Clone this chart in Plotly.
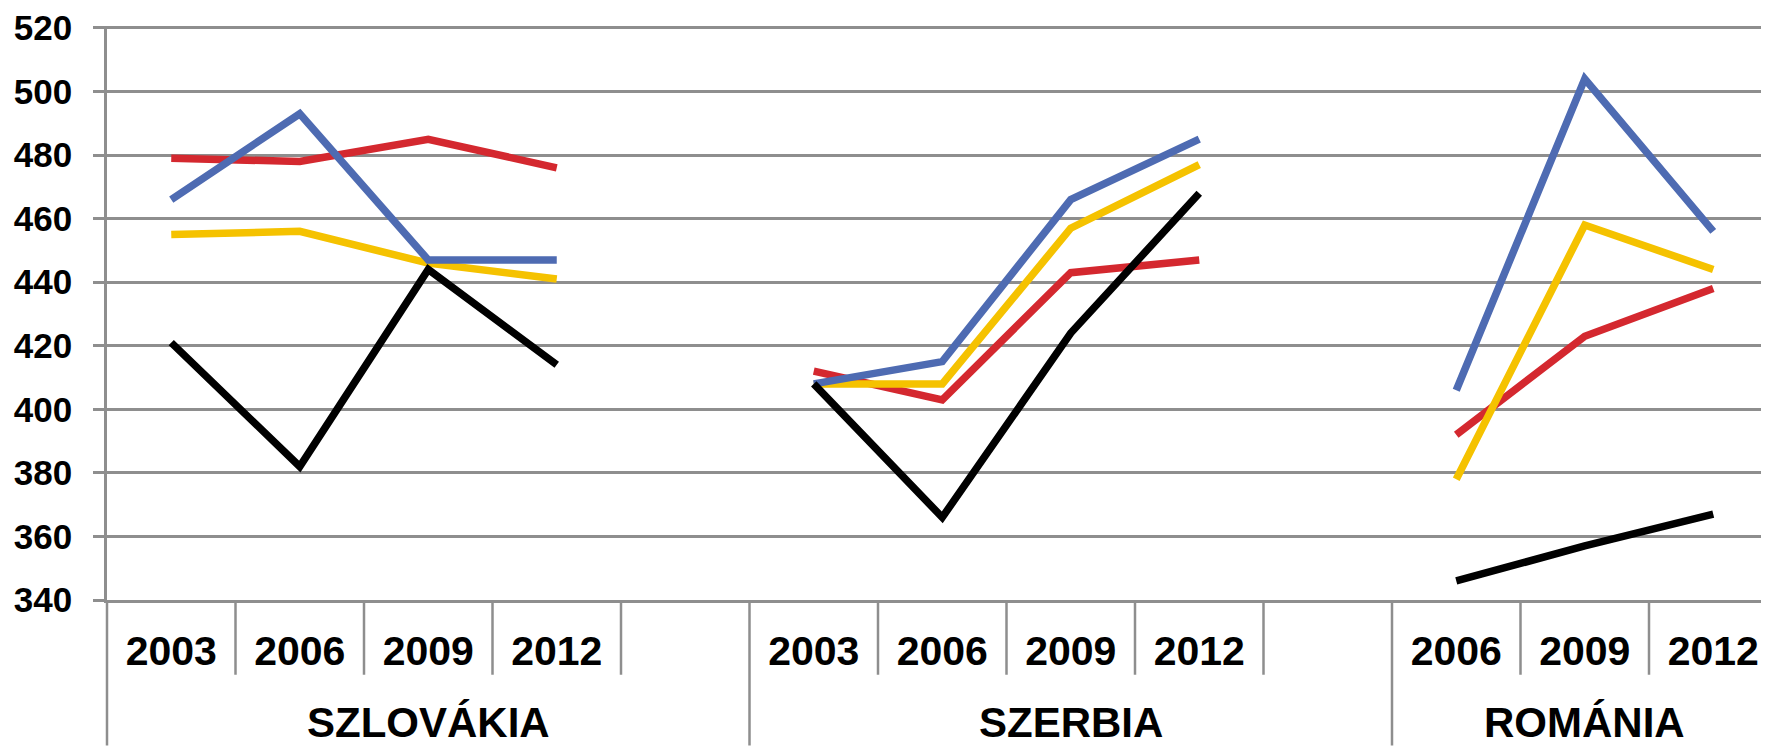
import plotly.graph_objects as go

# ---- data ----
groups = ["SZLOVÁKIA"] * 5 + ["SZERBIA"] * 5 + ["ROMÁNIA"] * 3
years = ["2003", "2006", "2009", "2012", "",
         "2003", "2006", "2009", "2012", "",
         "2006", "2009", "2012"]

red = [479, 478, 485, 476, None, 412, 403, 443, 447, None, 392, 423, 438]
yellow = [455, 456, 446, 441, None, 408, 408, 457, 477, None, 378, 458, 444]
blue = [466, 493, 447, 447, None, 408, 415, 466, 485, None, 406, 504, 456]
black = [421, 382, 444, 414, None, 408, 366, 424, 468, None, 346, 357, 367]

y_ticks = list(range(340, 521, 20))

series = [
    (red, "#D4282F"),
    (yellow, "#F5C200"),
    (blue, "#4E6BB2"),
    (black, "#000000"),
]

GRID = "#8E8E8E"
FONT = "Liberation Sans, Arial, sans-serif"

# geometry (page has an 8px body margin)
W, H = 1761, 738
ML, MT, MB = 99, 16, 146
PLOT_H = H - MT - MB
SLOT = 128.5

n = len(years)
slots = list(range(n))
x_min = -0.5
x_max = x_min + (W - ML) / SLOT
y_lo, y_hi = y_ticks[0], y_ticks[-1]
y_top = y_lo + (y_hi - y_lo) * PLOT_H / (PLOT_H - 2)

fig = go.Figure()
for vals, col in series:
    fig.add_trace(go.Scatter(
        x=slots, y=vals, mode="lines",
        line=dict(color=col, width=7.5),
        connectgaps=False, showlegend=False, hoverinfo="skip",
    ))


def xpaper(v):
    return (v - x_min) / (x_max - x_min)


# separators: short between years, long between groups
for i in range(n + 1):
    b = i - 0.5
    if i == 0 or i == n or groups[i] != groups[i - 1]:
        y0 = -MB / PLOT_H
    else:
        y0 = -75 / PLOT_H
    if b > x_max:
        continue
    fig.add_shape(type="line", xref="paper", yref="paper",
                  x0=xpaper(b), x1=xpaper(b), y0=0, y1=y0,
                  line=dict(color=GRID, width=2.5))

# group labels
seen = []
for g in groups:
    if g not in seen:
        seen.append(g)
for g in seen:
    idx = [i for i, gg in enumerate(groups) if gg == g]
    center = (idx[0] + idx[-1]) / 2
    fig.add_annotation(
        x=center, xref="x", y=-123 / PLOT_H, yref="paper",
        text=g, showarrow=False, yanchor="middle", xanchor="center",
        font=dict(family=FONT, size=42, color="black", weight="bold"),
    )

tick_vals = [i for i in slots if years[i]]
tick_text = [years[i] for i in tick_vals]

fig.update_layout(
    width=W, height=H,
    margin=dict(l=ML, r=0, t=MT, b=MB),
    paper_bgcolor="white", plot_bgcolor="white",
    font=dict(family=FONT, color="black"),
)
fig.update_xaxes(
    range=[x_min, x_max], tickvals=tick_vals, ticktext=tick_text,
    showgrid=False, zeroline=False,
    showline=True, linecolor=GRID, linewidth=2.5,
    ticks="", ticklabelstandoff=13,
    tickfont=dict(family=FONT, size=41, color="black", weight="bold"),
)
fig.update_yaxes(
    range=[y_lo, y_top], tickvals=y_ticks,
    showgrid=True, gridcolor=GRID, gridwidth=2.5,
    zeroline=False, showline=True, linecolor=GRID, linewidth=2.5,
    ticks="outside", ticklen=11, tickcolor=GRID, tickwidth=2.5,
    ticklabelstandoff=14, ticklabeloverflow="allow",
    tickfont=dict(family=FONT, size=35, color="black", weight="bold"),
)

fig.write_html("out.html")
